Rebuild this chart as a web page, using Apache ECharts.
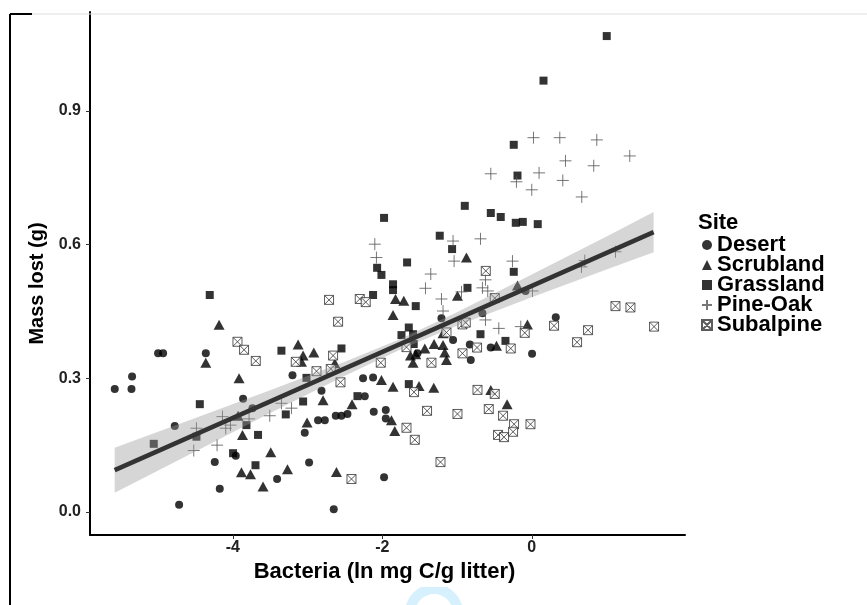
<!DOCTYPE html>
<html>
<head>
<meta charset="utf-8">
<script src="https://cdn.jsdelivr.net/npm/echarts@6/dist/echarts.min.js"></script>
<style>html,body{margin:0;padding:0;background:#fff;}#chart{width:867px;height:605px;}</style>
</head>
<body>
<div id="chart"></div>
<script>
// ---- data: [bacteria (ln mg C/g litter), mass lost (g)] ----
const desert = [[-0.084,0.496],[0.321,0.437],[0.004,0.355],[-0.549,0.369],[-1.208,0.435],[-0.660,0.446],[-1.053,0.386],[-0.829,0.376],[-0.816,0.341],[-1.529,0.356],[-3.201,0.307],[-2.257,0.300],[-2.123,0.302],[-2.813,0.272],[-2.234,0.260],[-2.114,0.225],[-1.953,0.229],[-1.953,0.210],[-2.859,0.206],[-2.769,0.206],[-2.622,0.216],[-2.546,0.216],[-2.466,0.220],[-3.037,0.178],[-2.979,0.111],[-1.976,0.078],[-2.649,0.006],[-5.347,0.304],[-5.579,0.276],[-5.355,0.276],[-3.862,0.254],[-3.736,0.233],[-4.776,0.193],[-3.960,0.126],[-4.241,0.112],[-3.407,0.074],[-4.174,0.052],[-4.718,0.016],[-4.999,0.356],[-4.932,0.356],[-4.361,0.356]];
const scrubland = [[-0.874,0.571],[-1.823,0.478],[-1.712,0.474],[-1.856,0.442],[-0.994,0.485],[-1.187,0.401],[-1.307,0.377],[-1.187,0.375],[-1.164,0.358],[-1.141,0.341],[-1.431,0.367],[-1.623,0.351],[-1.552,0.354],[-3.126,0.376],[-3.059,0.351],[-2.916,0.358],[-3.081,0.337],[-2.635,0.334],[-1.588,0.335],[-0.191,0.508],[-0.058,0.421],[-0.472,0.373],[-0.548,0.274],[-0.330,0.242],[-2.011,0.296],[-1.856,0.281],[-1.508,0.283],[-1.311,0.279],[-2.792,0.251],[-2.404,0.242],[-1.877,0.206],[-1.833,0.182],[-3.006,0.201],[-2.613,0.090],[-4.183,0.420],[-4.361,0.335],[-3.916,0.300],[-3.929,0.216],[-3.870,0.173],[-3.492,0.134],[-3.884,0.089],[-3.763,0.085],[-3.268,0.096],[-3.595,0.057]];
const grassland = [[1.003,1.068],[0.157,0.968],[-0.241,0.824],[-0.191,0.755],[-0.548,0.671],[-0.415,0.662],[-0.214,0.649],[-0.120,0.651],[0.080,0.646],[-0.241,0.539],[-0.352,0.384],[-0.896,0.687],[-1.976,0.660],[-1.231,0.620],[-1.066,0.590],[-2.069,0.548],[-2.011,0.532],[-1.668,0.560],[-1.856,0.511],[-1.856,0.498],[-2.123,0.487],[-1.552,0.462],[-0.860,0.503],[-1.645,0.414],[-1.743,0.397],[-1.588,0.399],[-1.579,0.377],[-0.686,0.399],[-2.546,0.367],[-4.308,0.487],[-3.349,0.362],[-3.014,0.301],[-3.059,0.248],[-2.332,0.260],[-1.645,0.287],[-4.441,0.242],[-3.817,0.195],[-3.291,0.219],[-4.486,0.169],[-5.057,0.153],[-3.662,0.173],[-3.996,0.132],[-3.696,0.105]];
const pineOak = [[0.023,0.840],[0.375,0.840],[0.870,0.835],[0.451,0.788],[0.829,0.777],[1.311,0.799],[-0.548,0.759],[-0.205,0.741],[0.098,0.761],[0.415,0.744],[0.000,0.723],[0.669,0.707],[-0.258,0.563],[0.009,0.496],[0.709,0.564],[0.665,0.550],[1.120,0.584],[-0.441,0.412],[-0.147,0.416],[-1.053,0.608],[-0.686,0.613],[-1.039,0.563],[-2.100,0.601],[-2.078,0.571],[-1.351,0.534],[-1.422,0.502],[-1.208,0.478],[-1.187,0.451],[-0.940,0.494],[-0.660,0.503],[-0.619,0.521],[-0.589,0.496],[-0.619,0.431],[-3.215,0.233],[-4.138,0.214],[-4.031,0.195],[-4.094,0.188],[-3.782,0.209],[-3.505,0.216],[-3.349,0.244],[-4.486,0.188],[-4.522,0.138],[-4.210,0.150]];
const subalpine = [[-3.937,0.382],[-3.849,0.364],[-3.692,0.339],[-2.712,0.476],[-2.301,0.478],[-2.221,0.471],[-2.591,0.427],[-0.615,0.541],[-0.495,0.480],[-0.927,0.421],[-0.883,0.425],[-1.141,0.403],[-0.732,0.369],[-1.676,0.370],[-0.927,0.356],[-2.658,0.351],[-3.157,0.337],[-2.020,0.335],[-1.342,0.335],[-0.094,0.402],[-0.281,0.367],[0.298,0.418],[0.753,0.408],[0.606,0.381],[1.120,0.462],[1.320,0.459],[1.636,0.416],[-2.880,0.316],[-2.689,0.321],[-2.559,0.291],[-1.575,0.269],[-0.726,0.274],[-0.495,0.265],[-0.575,0.231],[-1.401,0.227],[-0.994,0.220],[-1.676,0.189],[-1.565,0.162],[-1.221,0.112],[-2.412,0.074],[-0.384,0.216],[-0.237,0.197],[-0.017,0.197],[-0.250,0.180],[-0.451,0.173],[-0.371,0.168]];

// fitted line and its confidence band
const fitLine = [[-5.58,0.094],[1.63,0.628]];
const bandX     = [-5.58,-4.5,-3.5,-2.5,-1.75,-1.0,0.0,1.0,1.63];
const bandLower = [0.043,0.136,0.222,0.306,0.365,0.418,0.482,0.544,0.583];
const bandUpper = [0.144,0.211,0.273,0.337,0.389,0.448,0.533,0.618,0.673];

const xTicks = [-4,-2,0];
const yTicks = [0,0.3,0.6,0.9];
const siteNames = ['Desert','Scrubland','Grassland','Pine-Oak','Subalpine'];

const FONT = "'Liberation Sans', Arial, Helvetica, sans-serif";
const chart = echarts.init(document.getElementById('chart'), null, {renderer:'canvas'});

const bandPolygon = (params, api) => {
  const pts = [];
  for (let i = 0; i < bandX.length; i++) pts.push(api.coord([bandX[i], bandUpper[i]]));
  for (let i = bandX.length - 1; i >= 0; i--) pts.push(api.coord([bandX[i], bandLower[i]]));
  return {type:'polygon', shape:{points:pts}, style:{fill:'rgba(153,153,153,0.4)'}};
};

chart.setOption({
  backgroundColor:'#fff',
  animation:false,
  title:{text:'Site', left:693, top:207, textStyle:{fontFamily:FONT, fontWeight:'bold', fontSize:22, color:'#000'}},
  legend:{
    data:siteNames, orient:'vertical', left:696, top:229, itemWidth:10, itemHeight:10, itemGap:-2,
    textStyle:{fontFamily:FONT, fontWeight:'bold', fontSize:22, color:'#000', lineHeight:19, padding:[0,0,0,0]}
  },
  grid:{left:90, right:182, top:12, bottom:70, containLabel:false},
  xAxis:{
    type:'value', min:-5.91, max:2.05,
    name:'Bacteria (ln mg C/g litter)', nameLocation:'middle', nameGap:15,
    nameTextStyle:{fontFamily:FONT, fontWeight:'bold', fontSize:22, color:'#000', padding:[0,6,0,0]},
    axisLine:{show:true, onZero:false, lineStyle:{color:'#000', width:2}},
    axisTick:{show:true, length:4, lineStyle:{color:'#333', width:1}, customValues:xTicks},
    axisLabel:{fontFamily:FONT, fontWeight:'bold', fontSize:16, color:'#222', margin:5, customValues:xTicks, formatter:v=>String(v)},
    splitLine:{show:false}
  },
  yAxis:{
    type:'value', min:-0.0516, max:1.122,
    name:'Mass lost (g)', nameLocation:'middle', nameGap:31, nameRotate:90,
    nameTextStyle:{fontFamily:FONT, fontWeight:'bold', fontSize:20, color:'#000', padding:[0,20,0,0]},
    axisLine:{show:true, onZero:false, lineStyle:{color:'#000', width:2}},
    axisTick:{show:true, length:4, lineStyle:{color:'#333', width:1}, customValues:yTicks},
    axisLabel:{fontFamily:FONT, fontWeight:'bold', fontSize:16, color:'#222', margin:9, customValues:yTicks, formatter:v=>v.toFixed(1)},
    splitLine:{show:false}
  },
  series:[
    {name:'Desert', type:'scatter', data:desert, symbol:'circle', symbolSize:8, z:2, itemStyle:{color:'#000'}},
    {name:'Scrubland', type:'scatter', data:scrubland, symbol:'triangle', symbolSize:[11,10], z:2, itemStyle:{color:'#000'}},
    {name:'Grassland', type:'scatter', data:grassland, symbol:'rect', symbolSize:8, z:2, itemStyle:{color:'#000'}},
    {name:'Pine-Oak', type:'scatter', data:pineOak, symbol:'path://M0,5L10,5M5,0L5,10', symbolSize:12, z:2,
      itemStyle:{color:'rgba(0,0,0,0)', borderColor:'#555', borderWidth:1}},
    {name:'Subalpine', type:'scatter', data:subalpine, symbol:'path://M0,0L10,0L10,10L0,10ZM0,0L10,10M10,0L0,10', symbolSize:9, z:2,
      itemStyle:{color:'#fff', borderColor:'#333', borderWidth:1}},
    {type:'custom', renderItem:bandPolygon, data:[fitLine[0]], z:3, silent:true},
    {type:'line', data:fitLine, symbol:'none', z:4, silent:true, lineStyle:{color:'#333', width:4.5}}
  ],
  graphic:[
    {type:'line', shape:{x1:10, y1:14, x2:10, y2:605}, style:{stroke:'#000', lineWidth:2}, z:10},
    {type:'line', shape:{x1:10, y1:14, x2:867, y2:14}, style:{stroke:'#ddd', lineWidth:1}, z:10},
    {type:'line', shape:{x1:10, y1:14, x2:32, y2:14}, style:{stroke:'#000', lineWidth:2}, z:10},
    {type:'group', clipPath:{type:'rect', shape:{x:395, y:587, width:80, height:20}}, children:[
      {type:'ring', shape:{cx:434, cy:613, r:29, r0:19}, style:{fill:'#d6f1fd'}}
    ]}
  ]
});
</script>
</body>
</html>
